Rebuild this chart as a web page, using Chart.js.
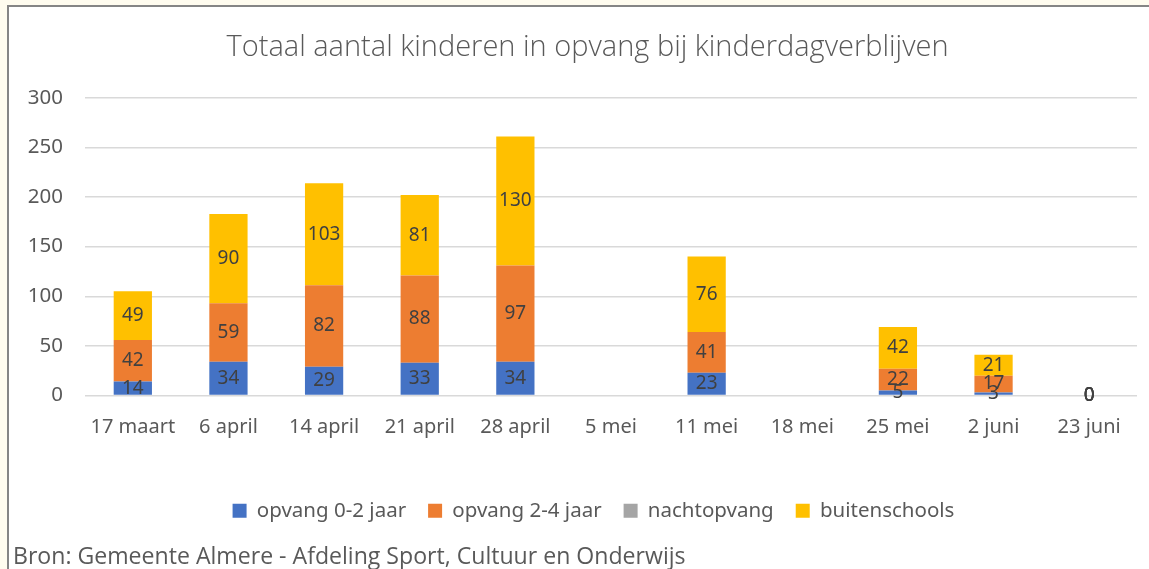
<!DOCTYPE html>
<html>
<head>
<meta charset="utf-8">
<script src="https://cdn.jsdelivr.net/npm/chart.js@4.4.1/dist/chart.umd.min.js"></script>
<style>
  html, body { margin: 0; padding: 0; background: #fffcef; width: 1149px; height: 569px; overflow: hidden; }
  #frame { position: absolute; left: 7px; top: 5px; width: 1142px; height: 564px; background: #ffffff;
           border-left: 2px solid #858585; border-top: 2px solid #858585; box-sizing: border-box; }
  #c { position: absolute; left: 0; top: 0; }
  #src { position: absolute; left: 13px; top: 539px; font-family: "Open Sans", sans-serif; font-size: 23.1px; font-weight: 400;
         color: #595959; white-space: nowrap; }
</style>
</head>
<body>
<div id="frame"></div>
<canvas id="c" width="1149" height="569"></canvas>
<div id="src">Bron: Gemeente Almere - Afdeling Sport, Cultuur en Onderwijs</div>
<script>
const categories = ["17 maart", "6 april", "14 april", "21 april", "28 april", "5 mei", "11 mei", "18 mei", "25 mei", "2 juni", "23 juni"];
const opvang02 = [14, 34, 29, 33, 34, null, 23, null, 5, 3, 0];
const opvang24 = [42, 59, 82, 88, 97, null, 41, null, 22, 17, 0];
const nachtopvang = [null, null, null, null, null, null, null, null, null, null, 0];
const buitenschools = [49, 90, 103, 81, 130, null, 76, null, 42, 21, 0];
const yTicks = [0, 50, 100, 150, 200, 250, 300];

const labelPlugin = {
  id: 'segLabels',
  afterDatasetsDraw(chart) {
    const ctx = chart.ctx;
    ctx.save();
    ctx.font = '19px "Noto Sans", sans-serif';
    ctx.fillStyle = '#404040';
    ctx.textAlign = 'center';
    ctx.textBaseline = 'middle';
    chart.data.datasets.forEach((ds, i) => {
      const meta = chart.getDatasetMeta(i);
      meta.data.forEach((el, j) => {
        const v = ds.data[j];
        if (v === null || v === undefined) return;
        const p = el.getProps(['x', 'y', 'base'], true);
        ctx.fillText(String(v), p.x, (p.y + p.base) / 2);
      });
    });
    ctx.restore();
  }
};

// nudge title and legend horizontally to match the reference centring
const shiftPlugin = {
  id: 'shiftBlocks',
  afterLayout(chart) {
    if (chart.titleBlock) { chart.titleBlock.left += 14; chart.titleBlock.right += 14; }
    if (chart.legend) { chart.legend.left += 20; chart.legend.right += 20; }
  }
};

const fontFam = '"Noto Sans", sans-serif';
new Chart(document.getElementById('c'), {
  type: 'bar',
  data: {
    labels: categories,
    datasets: [
      { label: 'opvang 0-2 jaar', data: opvang02, backgroundColor: '#4472C4' },
      { label: 'opvang 2-4 jaar', data: opvang24, backgroundColor: '#ED7D31' },
      { label: 'nachtopvang', data: nachtopvang, backgroundColor: '#A5A5A5' },
      { label: 'buitenschools', data: buitenschools, backgroundColor: '#FFC000' }
    ]
  },
  options: {
    responsive: false,
    animation: false,
    devicePixelRatio: 1,
    layout: { padding: { left: 10, right: 12, top: 30, bottom: 38 } },
    datasets: { bar: { categoryPercentage: 1.0, barPercentage: 0.40 } },
    scales: {
      x: {
        stacked: true,
        grid: { display: false },
        border: { display: false },
        afterFit(scale) { scale.height = 83; },
        ticks: { color: '#595959', font: { family: fontFam, size: 20 }, padding: 12, maxRotation: 0, autoSkip: false }
      },
      y: {
        stacked: true,
        min: 0, max: 300,
        afterBuildTicks(scale) { scale.ticks = yTicks.map(v => ({ value: v })); },
        afterFit(scale) { scale.width = 75; },
        grid: { color: '#d9d9d9', lineWidth: 1.5, drawTicks: false },
        border: { display: false },
        ticks: { color: '#595959', font: { family: fontFam, size: 20.5 }, padding: 22 }
      }
    },
    plugins: {
      title: {
        display: true,
        text: 'Totaal aantal kinderen in opvang bij kinderdagverblijven',
        color: '#595959',
        font: { family: '"Open Sans", sans-serif', size: 29, weight: '300' },
        padding: { top: 0, bottom: 33 }
      },
      legend: {
        position: 'bottom',
        labels: { color: '#595959', font: { family: fontFam, size: 20.5 }, boxWidth: 14, boxHeight: 14, padding: 22 }
      },
      tooltip: { enabled: false }
    }
  },
  plugins: [labelPlugin, shiftPlugin]
});
</script>
</body>
</html>
